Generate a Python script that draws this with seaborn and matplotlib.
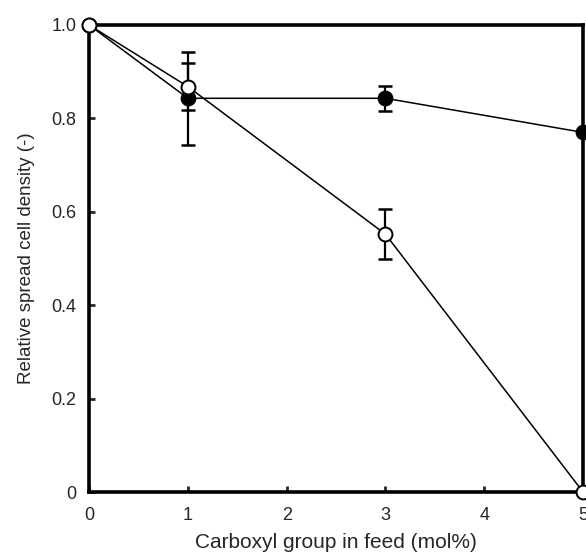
import matplotlib
matplotlib.use("Agg")
import matplotlib.pyplot as plt
import seaborn as sns
import pandas as pd
import numpy as np

x_filled = [0, 1, 3, 5]
y_filled = [1.0, 0.843, 0.843, 0.770]
err_filled = [0.0, 0.100, 0.027, 0.0]

x_open = [0, 1, 3, 5]
y_open = [1.0, 0.868, 0.552, 0.0]
err_open = [0.0, 0.050, 0.053, 0.0]

x_ticks = [0, 1, 2, 3, 4, 5]
y_ticks = [0, 0.2, 0.4, 0.6, 0.8, 1.0]
y_ticklabels = ["0", "0.2", "0.4", "0.6", "0.8", "1.0"]

sns.set_style("ticks")
plt.rcParams['font.family'] = ['Liberation Sans', 'DejaVu Sans']

fig = plt.figure(figsize=(5.86, 5.55), dpi=100)
ax = fig.add_axes([0.152, 0.1135, 0.843, 0.8415])

df_f = pd.DataFrame({"x": x_filled, "y": y_filled})
df_o = pd.DataFrame({"x": x_open, "y": y_open})

ax.errorbar(x_filled, y_filled, yerr=err_filled, fmt='none', ecolor='black',
            elinewidth=1.6, capsize=5, capthick=1.8, zorder=2, clip_on=False)
ax.errorbar(x_open, y_open, yerr=err_open, fmt='none', ecolor='black',
            elinewidth=1.6, capsize=5, capthick=1.8, zorder=2, clip_on=False)

sns.lineplot(data=df_f, x="x", y="y", ax=ax, color='black', lw=1.1,
             marker='o', markersize=10, markerfacecolor='black',
             markeredgecolor='black', markeredgewidth=1.4, clip_on=False, zorder=3)
sns.lineplot(data=df_o, x="x", y="y", ax=ax, color='black', lw=1.1,
             marker='o', markersize=10, markerfacecolor='white',
             markeredgecolor='black', markeredgewidth=1.4, clip_on=False, zorder=4)

ax.set_xlim(0, 5)
ax.set_ylim(0, 1.0)
ax.set_xticks(x_ticks)
ax.set_yticks(y_ticks)
ax.set_yticklabels(y_ticklabels)
ax.tick_params(direction='in', length=4, width=2, labelsize=13)
ax.tick_params(axis='x', pad=11)
ax.tick_params(axis='y', pad=9)
for s in ax.spines.values():
    s.set_linewidth(2.6)
    s.set_color('black')
    s.set_visible(True)

ax.set_xlabel("Carboxyl group in feed (mol%)", fontsize=15, labelpad=6)
ax.set_ylabel("Relative spread cell density (-)", fontsize=13.5, labelpad=12)

fig.savefig("out.png", dpi=100)
